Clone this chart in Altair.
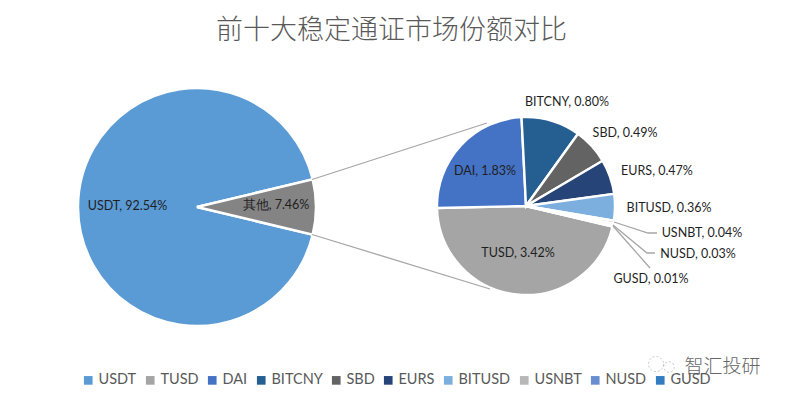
import math
import altair as alt
import pandas as pd

TITLE = "前十大稳定通证市场份额对比"
main_names = ["USDT", "其他"]
main_values = [92.54, 7.46]
main_labels = ["USDT, 92.54%", "其他, 7.46%"]
detail_names = ["TUSD", "DAI", "BITCNY", "SBD", "EURS", "BITUSD", "USNBT", "NUSD", "GUSD"]
detail_values = [3.42, 1.83, 0.80, 0.49, 0.47, 0.36, 0.04, 0.03, 0.01]
detail_labels = ["TUSD, 3.42%", "DAI, 1.83%", "BITCNY, 0.80%", "SBD, 0.49%", "EURS, 0.47%",
                 "BITUSD, 0.36%", "USNBT, 0.04%", "NUSD, 0.03%", "GUSD, 0.01%"]
legend_names = ["USDT", "TUSD", "DAI", "BITCNY", "SBD", "EURS", "BITUSD", "USNBT", "NUSD", "GUSD"]
palette = ["#5B9BD5", "#A5A5A5", "#4472C4", "#255E91", "#636363", "#264478", "#7CAFDD", "#B7B7B7", "#698ED0", "#327DC2"]
other_color = "#848484"

OX, OY = 8, 8
def px(x): return x - OX
def py(y): return y - OY

label_pos = {
    "USDT, 92.54%": (127.5, 206), "其他, 7.46%": (276, 205), "TUSD, 3.42%": (518, 253),
    "DAI, 1.83%": (485, 171), "BITCNY, 0.80%": (567, 102), "SBD, 0.49%": (625, 133),
    "EURS, 0.47%": (657, 171), "BITUSD, 0.36%": (669, 208), "USNBT, 0.04%": (702, 233),
    "NUSD, 0.03%": (698, 254), "GUSD, 0.01%": (651, 279),
}
lines = {
    "top": [(312, 179.5), (487, 123)],
    "bottom": [(312, 234.5), (490, 289)],
    "usnbt": [(614, 222), (648, 233), (657, 233)],
    "nusd": [(613, 225), (647, 253), (655, 253)],
    "gusd": [(613, 226), (650, 268)],
}

main_df = pd.DataFrame({"name": main_names, "value": main_values, "i": range(2)})
detail_df = pd.DataFrame({"name": detail_names, "value": detail_values, "i": range(9)})
label_df = pd.DataFrame([{"t": k, "x": px(v[0]), "y": py(v[1])} for k, v in label_pos.items()])
line_df = pd.DataFrame([{"g": k, "o": j, "x": px(p[0]), "y": py(p[1])} for k, pts in lines.items() for j, p in enumerate(pts)])

color = alt.Color(
    "name:N",
    scale=alt.Scale(domain=legend_names + ["其他"], range=palette + [other_color]),
    legend=alt.Legend(
        values=legend_names, title=None, orient="none", legendX=px(81), legendY=py(373),
        direction="horizontal", columns=10, columnPadding=6, symbolType="square", symbolSize=75,
        symbolStrokeWidth=0, labelFont="Lato", labelFontSize=14.5, labelColor="#595959", labelOffset=3,
        symbolOpacity=1,
    ),
)

start_main = math.radians(103.43)
main_pie = alt.Chart(main_df).mark_arc(radius=119, stroke="white", strokeWidth=2.5).encode(
    theta=alt.Theta("value:Q", stack=True, scale=alt.Scale(domain=[0, 100], range=[start_main, start_main + 2 * math.pi])),
    order=alt.Order("i:Q"), color=color,
    x=alt.value(px(197)), y=alt.value(py(207)),
)
start_detail = math.radians(103.43)
detail_pie = alt.Chart(detail_df).mark_arc(radius=89, stroke="white", strokeWidth=2.4).encode(
    theta=alt.Theta("value:Q", stack=True, scale=alt.Scale(domain=[0, 7.45], range=[start_detail, start_detail + 2 * math.pi])),
    order=alt.Order("i:Q"), color=color,
    x=alt.value(px(526)), y=alt.value(py(206)),
)
connectors = alt.Chart(line_df).mark_line(color="#A6A6A6", strokeWidth=1.3).encode(
    x=alt.X("x:Q", scale=None), y=alt.Y("y:Q", scale=None), detail="g:N", order="o:Q",
)
labels = alt.Chart(label_df).mark_text(font="Lato", fontSize=12.5, color="#1f1f1f").encode(
    x=alt.X("x:Q", scale=None), y=alt.Y("y:Q", scale=None), text="t:N",
)
mark_df = pd.DataFrame({"t": ["智汇投研"]})
watermark = alt.Chart(mark_df).mark_text(font="Noto Sans CJK SC", fontSize=19, color="#666666", fontWeight=300).encode(
    x=alt.value(px(722.5)), y=alt.value(py(367)), text="t:N",
)
bubble_df = pd.DataFrame({"b": ["a", "b"], "x": [px(656), px(669)], "y": [py(364), py(367)], "s": [230, 110]})
bubbles = alt.Chart(bubble_df).mark_point(shape="circle", filled=False, color="#b5b5b5", strokeWidth=1, strokeDash=[2, 2]).encode(
    x=alt.X("x:Q", scale=None), y=alt.Y("y:Q", scale=None), size=alt.Size("s:Q", scale=None),
)

chart = alt.layer(main_pie, detail_pie, connectors, labels, bubbles, watermark).resolve_scale(theta="independent").properties(
    width=770, height=385, padding=0, autosize=alt.AutoSizeParams(type="none"),
    background="white",
    title=alt.TitleParams(TITLE, font="Noto Sans CJK SC", fontSize=27, fontWeight=300, color="#595959",
                          anchor="middle", dy=41, dx=-1.5),
).configure_view(stroke=None)

chart.save("out.html", embed_options={"renderer": "svg", "actions": False})
